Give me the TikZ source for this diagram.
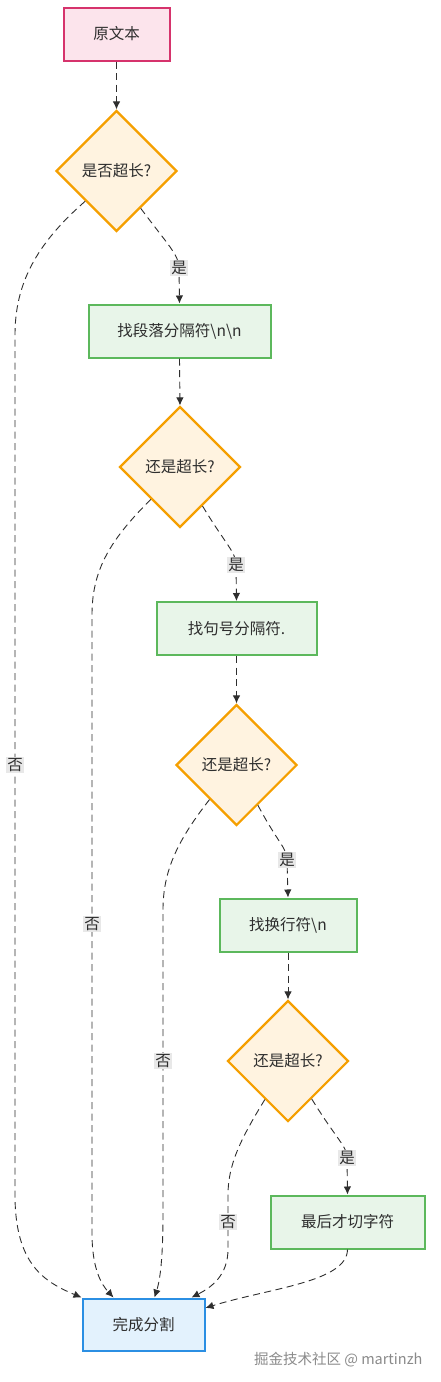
\documentclass[tikz,border=0pt]{standalone}
\usepackage{fontspec}
\setmainfont{Noto Sans CJK SC}
\usepackage{xcolor}
\usepackage{tikz}
\usetikzlibrary{shapes.geometric}
\usetikzlibrary{arrows.meta}

\definecolor{pinkfill}{HTML}{FCE4EC}
\definecolor{pinkline}{HTML}{D6336C}
\definecolor{orangefill}{HTML}{FFF3E0}
\definecolor{orangeline}{HTML}{F59F00}
\definecolor{greenfill}{HTML}{E8F5E9}
\definecolor{greenline}{HTML}{5CB85C}
\definecolor{bluefill}{HTML}{E3F2FD}
\definecolor{blueline}{HTML}{2B8FE3}
\definecolor{textgray}{HTML}{2E2E2E}
\definecolor{lblgray}{HTML}{E8E8E8}
\definecolor{wmgray}{HTML}{8A8A8A}

\begin{document}
\begin{tikzpicture}[x=1pt,y=-1pt,
  every node/.style={font=\fontsize{15.5}{18}\selectfont, text=textgray},
  startbox/.style={draw=pinkline, fill=pinkfill, line width=2pt, minimum width=106pt, minimum height=53pt},
  stepbox/.style={draw=greenline, fill=greenfill, line width=2pt, minimum height=53pt},
  endbox/.style={draw=blueline, fill=bluefill, line width=2pt, minimum width=122pt, minimum height=52pt},
  decision/.style={diamond, aspect=1, draw=orangeline, fill=orangefill, line width=2.2pt, inner sep=0pt, minimum width=121pt, minimum height=121pt},
  link/.style={draw=textgray, line width=0.9pt, dash pattern=on 7pt off 4.5pt, -{Latex[length=8pt,width=7.5pt]}},
  lbl/.style={fill=lblgray, inner sep=1.5pt}]
  \useasboundingbox (0,0) rectangle (440,1382);

  % boxes and questions
  \node [startbox] (src) at (116.5,34) {原文本};
  \node [decision] (q1) at (116.5,171) {是否超长?};
  \node [stepbox, minimum width=182pt] (para) at (179.5,331) {找段落分隔符\textbackslash n\textbackslash n};
  \node [decision] (q2) at (180,467) {还是超长?};
  \node [stepbox, minimum width=160pt] (sent) at (236.5,628.5) {找句号分隔符.};
  \node [decision] (q3) at (236.5,765) {还是超长?};
  \node [stepbox, minimum width=137pt] (line) at (288,925) {找换行符\textbackslash n};
  \node [decision] (q4) at (288,1061) {还是超长?};
  \node [stepbox, minimum width=154pt] (cut) at (347.5,1222) {最后才切字符};
  \node [endbox] (done) at (143.5,1324.5) {完成分割};
  \node [anchor=east, text=wmgray, font=\fontsize{14.5}{17}\selectfont] (mark) at (426,1360) {掘金技术社区 @ martinzh};

  % main line
  \draw [link] (src.south) -- (q1.north);
  \draw [link] (q1.-57) .. controls (168,245) and (179,255) .. (179,268) node[lbl]{是} -- (para.north);
  \draw [link] (para.south) -- (q2.north);
  \draw [link] (q2.-60) .. controls (226,545) and (236,552) .. (236,565) node[lbl]{是} -- (sent.north);
  \draw [link] (sent.south) -- (q3.north);
  \draw [link] (q3.-62) .. controls (278,843) and (287,848) .. (287,860) node[lbl]{是} -- (line.north);
  \draw [link] (line.south) -- (q4.north);
  \draw [link] (q4.-58) .. controls (337,1140) and (347,1146) .. (347,1158) node[lbl]{是} -- (cut.north);

  % the no branches
  \draw [link] (q1.-136) .. controls (35,245) and (15,285) .. (15,335) -- node[lbl]{否} (15,1195) .. controls (15,1265) and (45,1282) .. (done.north west);
  \draw [link] (q2.-132) .. controls (110,540) and (92,570) .. (92,615) -- node[lbl]{否} (92,1233) .. controls (92,1270) and (102,1285) .. ([xshift=-30pt]done.north);
  \draw [link] (q3.-128) .. controls (178,840) and (163,870) .. (163,910) -- node[lbl]{否} (163,1212) .. controls (163,1260) and (160,1280) .. ([xshift=11pt]done.north);
  \draw [link] (q4.-121) .. controls (240,1140) and (228,1165) .. (228,1195) -- node[lbl]{否} (228,1249) .. controls (228,1275) and (212,1287) .. ([xshift=48pt]done.north);
  \draw [link] (cut.south) .. controls (347,1282) and (270,1288) .. (done.15);
\end{tikzpicture}
\end{document}
